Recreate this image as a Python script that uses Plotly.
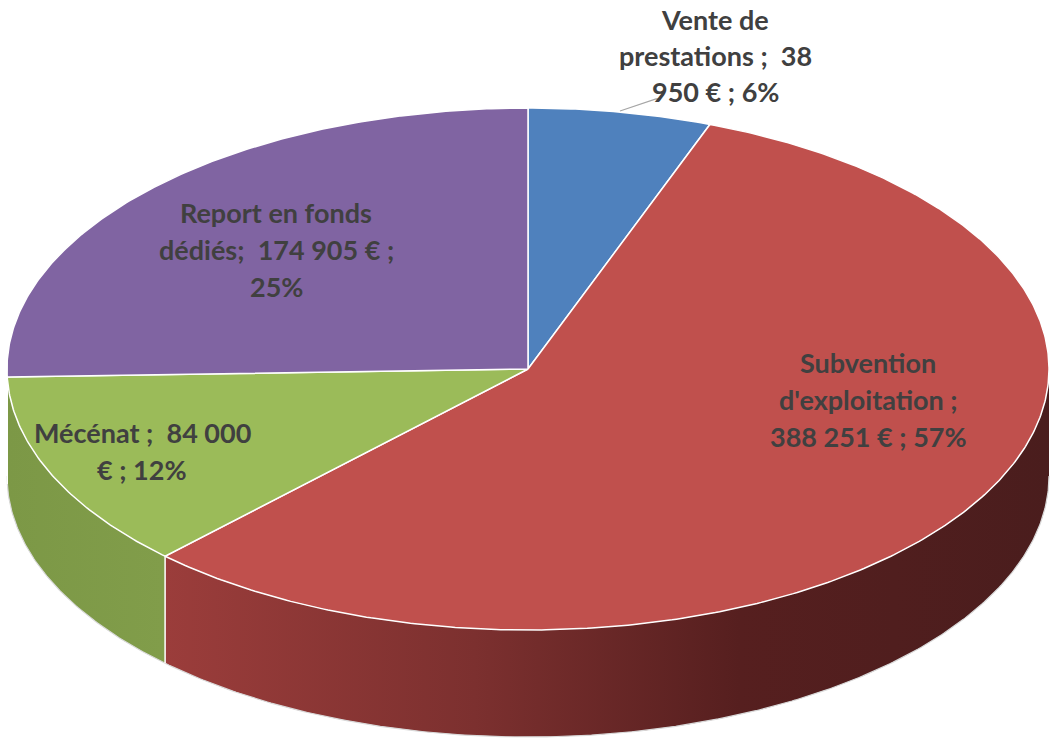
import numpy as np
import plotly.graph_objects as go

# ---------------- data ----------------
categories = ["Vente de prestations", "Subvention d'exploitation", "Mécénat", "Report en fonds dédiés"]
values = [38950, 388251, 84000, 174905]
label_lines = [
    ["Vente de", "prestations ;  38", "950 € ; 6%"],
    ["Subvention", "d'exploitation ;", "388 251 € ; 57%"],
    ["Mécénat ;  84 000", "€ ; 12%"],
    ["Report en fonds", "dédiés;  174 905 € ;", "25%"],
]
top_colors = ["#4F81BD", "#C0504D", "#9BBB59", "#8064A2"]
side_scales = [
    [[0, "#3b6190"], [1, "#2f4e75"]],
    [[0, "#9b3d3b"], [0.35, "#7c302f"], [0.65, "#561f1f"], [1, "#4a1d1d"]],
    [[0, "#7c9846"], [1, "#819d4a"]],
    [[0, "#62497e"], [1, "#5a4374"]],
]

# ---------------- geometry (layout) ----------------
W, H = 1051, 738
cx, cy, a, b, depth = 528, 369, 521, 261, 107

total = sum(values)
fracs = [v / total for v in values]
bounds = np.concatenate([[0], np.cumsum(fracs)]) * 360.0


def pt(theta_deg, dy=0.0):
    t = np.radians(theta_deg)
    return cx + a * np.sin(t), cy - b * np.cos(t) + dy


fig = go.Figure()

# side faces (front half: 90..270 deg)
for i in range(len(values)):
    t1, t2 = bounds[i], bounds[i + 1]
    s1, s2 = max(t1, 90), min(t2, 270)
    if s2 <= s1:
        continue
    th = np.linspace(s1, s2, max(int((s2 - s1) * 2), 2))
    xt, yt = pt(th)
    xb, yb = pt(th[::-1], depth)
    xs = np.concatenate([xt, xb, xt[:1]])
    ys = np.concatenate([yt, yb, yt[:1]])
    fig.add_trace(go.Scatter(
        x=xs, y=ys, mode="lines", fill="toself",
        fillgradient=dict(type="horizontal", colorscale=side_scales[i]),
        line=dict(width=0), hoverinfo="skip", showlegend=False))

# faint outline of the bottom rim
th = np.linspace(90, 270, 400)
xb, yb = pt(th, depth)
fig.add_trace(go.Scatter(x=xb, y=yb, mode="lines", line=dict(color="#d9d9d9", width=1.2),
                         hoverinfo="skip", showlegend=False))

# vertical separators on side faces
for t in bounds[1:-1]:
    if 90 < t < 270:
        x0, y0 = pt(t)
        fig.add_trace(go.Scatter(x=[x0, x0], y=[y0, y0 + depth], mode="lines",
                                 line=dict(color="white", width=1.5),
                                 hoverinfo="skip", showlegend=False))

# top faces
for i in range(len(values)):
    t1, t2 = bounds[i], bounds[i + 1]
    th = np.linspace(t1, t2, max(int((t2 - t1) * 2), 2))
    xt, yt = pt(th)
    xs = np.concatenate([[cx], xt, [cx]])
    ys = np.concatenate([[cy], yt, [cy]])
    fig.add_trace(go.Scatter(
        x=xs, y=ys, mode="lines", fill="toself", fillcolor=top_colors[i],
        line=dict(color="white", width=1.5), name=categories[i],
        hoverinfo="skip", showlegend=False))

# leader line for the small slice
fig.add_trace(go.Scatter(x=[620, 656, 660], y=[111, 99, 99], mode="lines",
                         line=dict(color="#a6a6a6", width=1.3),
                         hoverinfo="skip", showlegend=False))

# labels (one annotation per line for exact spacing)
label_pos = [(715, 19), (868, 362), (142, 432), (276, 212)]
label_gaps = [36, 37, 37, 37]
font = dict(family="Lato, Carlito, Calibri, sans-serif", size=27, color="#404040", weight="bold")
for (lx, ly), gap, lines in zip(label_pos, label_gaps, label_lines):
    for k, txt in enumerate(lines):
        fig.add_annotation(x=lx, y=ly + k * gap, text=txt, showarrow=False,
                           xanchor="center", yanchor="middle", font=font, borderpad=0)

fig.update_layout(
    width=W, height=H, autosize=False,
    margin=dict(l=0, r=0, t=0, b=0),
    paper_bgcolor="white", plot_bgcolor="white",
    xaxis=dict(range=[0, W], visible=False, fixedrange=True),
    yaxis=dict(range=[H, 0], visible=False, fixedrange=True),
)

fig.write_html("out.html", config={"displayModeBar": False},
               post_script="document.body.style.margin='0px';document.body.style.overflow='hidden';")
